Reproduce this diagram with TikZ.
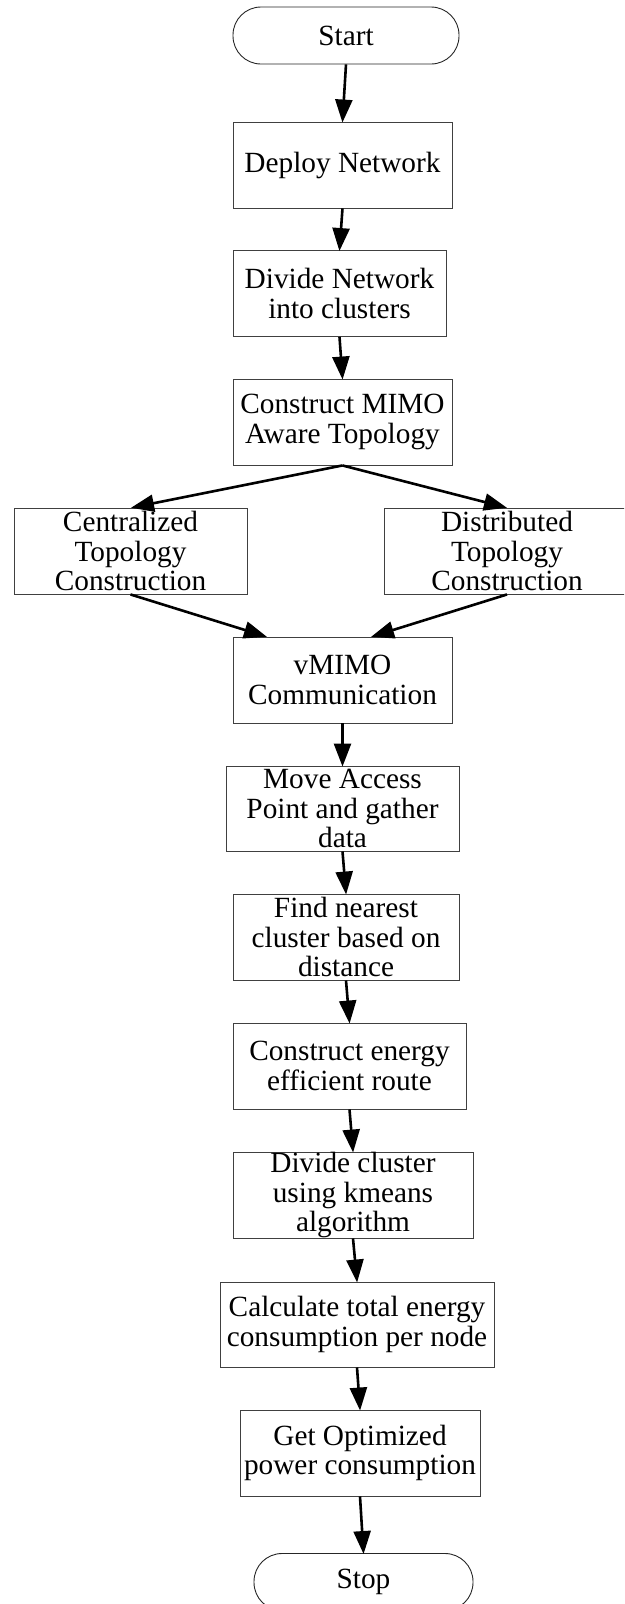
\documentclass[tikz,border=0pt]{standalone}
\usepackage{fontspec}
\setmainfont{Liberation Serif}
\usetikzlibrary{arrows.meta}
\begin{document}
\begin{tikzpicture}[x=1pt,y=-1pt,
  every node/.style={font=\fontsize{29.3}{29.2}\selectfont, align=center, inner sep=0pt},
  procbox/.style={draw=black!75, line width=0.9pt, minimum height=86pt},
  termbox/.style={draw=black!85, line width=0.9pt, rounded corners=28pt, minimum height=57pt},
  flow/.style={line width=2.6pt, -{Triangle[length=23pt,width=17pt]}, shorten >=-1pt}]
\useasboundingbox (0,0) rectangle (624,1604);
\clip (0,0) rectangle (624,1604);
\node[termbox, minimum width=226pt] (start) at (346,35.5) {Start};
\node[procbox, minimum width=219pt] (deploy) at (342.5,165) {Deploy Network};
\node[procbox, minimum width=213pt] (divnet) at (339.5,293.5) {Divide Network\\into clusters};
\node[procbox, minimum width=219pt] (mimo) at (342.5,422) {Construct MIMO\\Aware Topology};
\node[procbox, minimum width=233pt] (cent) at (130.5,551) {Centralized\\Topology\\Construction};
\node[procbox, minimum width=246pt] (dist) at (507,551) {Distributed\\Topology\\Construction};
\node[procbox, minimum width=219pt] (vmimo) at (342.5,680) {vMIMO\\Communication};
\node[procbox, minimum width=233pt, minimum height=85pt] (move) at (342.5,808.5) {Move Access\\Point and gather\\data};
\node[procbox, minimum width=226pt] (find) at (346,937) {Find nearest\\cluster based on\\distance};
\node[procbox, minimum width=233pt] (route) at (349.5,1066) {Construct energy\\efficient route};
\node[procbox, minimum width=240pt] (kmeans) at (353,1195) {Divide cluster\\using kmeans\\algorithm};
\node[procbox, minimum width=274pt, minimum height=85pt] (calc) at (357,1324.5) {Calculate total energy\\consumption per node};
\node[procbox, minimum width=240pt] (opt) at (360,1453) {Get Optimized\\power consumption};
\node[termbox, minimum width=219pt] (stop) at (363.5,1582) {Stop};
\draw[flow] (start.south) -- (deploy.north);
\draw[flow] (deploy.south) -- (divnet.north);
\draw[flow] (divnet.south) -- (mimo.north);
\draw[flow] (mimo.south) -- ([xshift=1.5pt]cent.north);
\draw[flow] (mimo.south) -- ([xshift=-1pt]dist.north);
\draw[flow] (cent.south) -- ([xshift=-76.5pt]vmimo.north);
\draw[flow] (dist.south) -- ([xshift=29.5pt]vmimo.north);
\draw[flow] (vmimo.south) -- (move.north);
\draw[flow] (move.south) -- (find.north);
\draw[flow] (find.south) -- (route.north);
\draw[flow] (route.south) -- (kmeans.north);
\draw[flow] (kmeans.south) -- (calc.north);
\draw[flow] (calc.south) -- (opt.north);
\draw[flow] (opt.south) -- (stop.north);
\end{tikzpicture}
\end{document}
